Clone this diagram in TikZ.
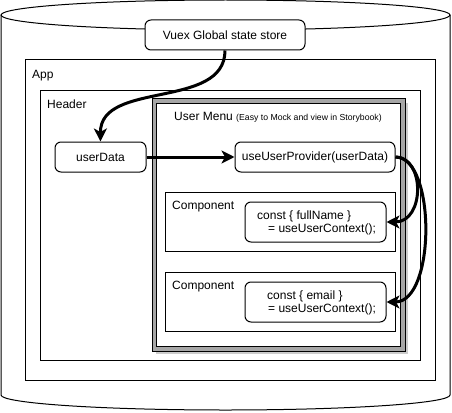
\documentclass[tikz,border=0pt]{standalone}
\usepackage{fontspec}
\setmainfont{Liberation Sans}
\usetikzlibrary{arrows.meta}
\begin{document}
\begin{tikzpicture}[x=1pt,y=-1pt, font=\fontsize{12}{14}\selectfont,
  box/.style={draw, line width=1pt, inner sep=0pt, fill=white},
  rbox/.style={box, rounded corners=6pt},
  lbl/.style={anchor=base west, inner sep=0pt},
  flow/.style={line width=3pt, -{Stealth[length=13pt,width=13pt,inset=3.5pt]}}]
\useasboundingbox (0,0) rectangle (452,412);
% cylinder
\draw[line width=1pt, fill=white] (1,15) -- (1,395)
  .. controls (1,403.3) and (101.5,410) .. (225.5,410)
  .. controls (349.5,410) and (450,403.3) .. (450,395) -- (450,15);
\draw[line width=1pt] (225.5,15) ellipse [x radius=224.5, y radius=15];
% containers
\node[box, minimum width=410pt, minimum height=320pt] (app) at (230,220) {};
\node[lbl] (applbl) at (32,78) {App};
\node[box, minimum width=380pt, minimum height=270pt] (header) at (230,225) {};
\node[lbl] (headerlbl) at (47,108) {Header};
% user menu with shadow
\fill[gray!40] (156,103) rectangle (407.5,353.5);
\node[draw, line width=1pt, double=gray!70, double distance=3.5pt, fill=white,
  minimum width=248.5pt, minimum height=248pt, inner sep=0pt] (menu) at (278.75,225) {};
\node[lbl] (menulbl) at (174,120.5) {User Menu {\fontsize{8.7}{10}\selectfont (Easy to Mock and view in Storybook)}};
% store
\node[rbox, minimum width=160pt, minimum height=30pt] (store) at (225,35) {Vuex Global state store};
% userData / provider
\node[rbox, minimum width=91pt, minimum height=30pt] (userData) at (100.5,157) {userData};
\node[rbox, minimum width=160pt, minimum height=30pt] (provider) at (315,157) {useUserProvider(userData)};
% components
\node[box, minimum width=230pt, minimum height=59pt] (comp1) at (280,221.5) {};
\node[lbl] (comp1lbl) at (172,209) {Component};
\node[rbox, minimum width=141pt, minimum height=40pt] (inner1) at (315.5,222) {};
\node[lbl] (in1a) at (257,219.5) {const \{ fullName \}};
\node[lbl] (in1b) at (268,232.5) {= useUserContext();};
\node[box, minimum width=230pt, minimum height=59pt] (comp2) at (280,301.5) {};
\node[lbl] (comp2lbl) at (172,289) {Component};
\node[rbox, minimum width=141pt, minimum height=40pt] (inner2) at (315.5,302) {};
\node[lbl] (in2a) at (267,299.5) {const \{ email \}};
\node[lbl] (in2b) at (268,312.5) {= useUserContext();};
% arrows
\draw[flow] (store.south) .. controls (225,110) and (100,80) .. (userData.north);
\draw[flow] (userData.east) -- (provider.west);
\draw[flow] (provider.east) .. controls (425,157) and (425,222) .. (inner1.east);
\draw[flow] (provider.east) .. controls (436,157) and (436,302) .. (inner2.east);
\end{tikzpicture}
\end{document}
